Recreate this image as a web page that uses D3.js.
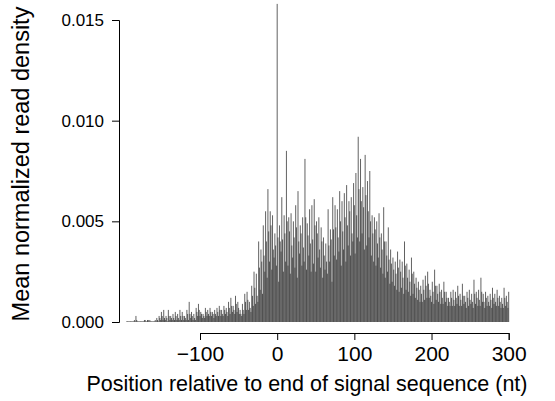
<!DOCTYPE html>
<html>
<head>
<meta charset="utf-8">
<script src="https://cdn.jsdelivr.net/npm/d3@7"></script>
<style>
  body { margin: 0; background: #fff; }
  text { font-family: "Liberation Sans", Arial, sans-serif; fill: #000; }
</style>
</head>
<body>
<svg id="chart" width="555" height="401"></svg>
<script>
// read density per nucleotide, split by reading frame (units of 1e-4)
// codon i starts at position firstPos + 3*i
var firstPos = -195;
var frame0 = [
    0, 0, 0, 0, 3, 0, 0, 0, 1, 1,
    1, 0, 0, 2, 3, 5, 6, 3, 6, 3,
    4, 5, 4, 6, 5, 3, 6, 10, 5, 4,
    7, 9, 5, 4, 7, 6, 7, 5, 6, 7,
    8, 6, 8, 7, 10, 12, 8, 13, 10, 6,
    9, 14, 15, 10, 18, 25, 24, 40, 36, 48,
    55, 66, 55, 53, 44, 158, 48, 62, 53, 85,
    52, 54, 50, 58, 65, 48, 52, 81, 49, 56,
    58, 61, 50, 52, 47, 42, 39, 56, 46, 62,
    58, 56, 65, 60, 64, 68, 60, 62, 69, 74,
    92, 81, 67, 83, 70, 75, 53, 52, 50, 54,
    44, 57, 40, 47, 36, 32, 30, 35, 31, 30,
    40, 29, 26, 32, 25, 22, 20, 18, 21, 23,
    25, 16, 20, 26, 18, 19, 16, 20, 15, 12,
    15, 16, 15, 18, 14, 19, 13, 15, 16, 14,
    21, 15, 16, 22, 14, 15, 13, 14, 17, 14,
    16, 13, 12, 17, 13, 15
];
var frame1 = [
    0, 0, 0, 1, 1, 0, 0, 0, 0, 1,
    0, 0, 1, 1, 2, 3, 2, 2, 3, 2,
    2, 3, 2, 3, 3, 2, 4, 4, 3, 2,
    5, 6, 4, 3, 5, 4, 5, 4, 4, 5,
    6, 4, 6, 5, 7, 8, 6, 9, 7, 4,
    6, 10, 11, 7, 13, 17, 13, 27, 30, 33,
    40, 45, 48, 36, 38, 42, 40, 41, 44, 50,
    45, 38, 42, 47, 40, 44, 37, 52, 43, 39,
    41, 48, 44, 36, 40, 33, 30, 38, 41, 46,
    47, 42, 50, 45, 52, 48, 55, 44, 58, 53,
    66, 60, 57, 63, 55, 50, 44, 46, 39, 42,
    36, 40, 33, 31, 29, 26, 24, 27, 25, 22,
    28, 22, 20, 24, 19, 17, 16, 14, 16, 18,
    19, 13, 15, 18, 14, 15, 12, 15, 12, 10,
    12, 11, 12, 13, 11, 13, 10, 12, 11, 10,
    14, 12, 11, 15, 10, 12, 10, 11, 12, 10,
    12, 10, 9, 12, 10
];
var frame2 = [
    0, 0, 0, 0, 0, 0, 0, 1, 0, 0,
    0, 0, 0, 0, 1, 1, 1, 0, 1, 1,
    1, 1, 1, 1, 1, 1, 1, 2, 1, 1,
    3, 3, 2, 2, 3, 3, 3, 2, 3, 3,
    3, 3, 4, 3, 4, 5, 4, 5, 4, 3,
    4, 6, 6, 5, 8, 9, 10, 16, 14, 25,
    22, 30, 26, 32, 28, 20, 35, 25, 30, 28,
    24, 32, 27, 22, 34, 28, 30, 26, 33, 25,
    29, 25, 32, 27, 22, 26, 24, 30, 20, 33,
    31, 35, 28, 36, 30, 38, 33, 40, 34, 42,
    40, 44, 36, 38, 42, 33, 30, 28, 32, 27,
    24, 22, 25, 19, 20, 18, 16, 15, 17, 14,
    16, 15, 13, 14, 12, 11, 10, 10, 11, 12,
    12, 10, 9, 11, 10, 9, 9, 10, 8, 8,
    8, 8, 9, 8, 8, 9, 7, 8, 9, 7,
    9, 8, 8, 10, 7, 8, 8, 7, 9, 8,
    8, 7, 7, 8, 7
];
var xTicks = [-100, 0, 100, 200, 300];
var yTicks = [0, 0.005, 0.010, 0.015];

var frames = [frame0, frame1, frame2];
var points = [];
frame0.forEach(function(v, i) {
    frames.forEach(function(f, k) {
        if (f[i] !== undefined) {
            points.push({ pos: firstPos + 3 * i + k, val: f[i] * 1e-4 });
        }
    });
});

var svg = d3.select('#chart');

var x = d3.scaleLinear().domain([-100, 300]).range([200, 508.7]);
var y = d3.scaleLinear().domain([0, 0.015]).range([322, 20]);

// one vertical spike per position, like R's type = "h"
svg.append('g')
    .selectAll('line')
    .data(points)
    .join('line')
        .attr('x1', d => x(d.pos))
        .attr('x2', d => x(d.pos))
        .attr('y1', y(0))
        .attr('y2', d => Math.min(y(d.val), y(0) - 0.6))
        .attr('stroke', '#2e2e2e')
        .attr('stroke-width', 0.75);

// axes, R style: detached from the plot region
var yAxis = svg.append('g')
        .attr('transform', 'translate(119,0)')
        .call(d3.axisLeft(y).tickValues(yTicks).tickFormat(d3.format('.3f')).tickSizeOuter(0).tickSize(7).tickPadding(8));
var xAxis = svg.append('g')
        .attr('transform', 'translate(0,333)')
        .call(d3.axisBottom(x).tickValues(xTicks).tickFormat(d => d < 0 ? '\u2212' + Math.abs(d) : d).tickSizeOuter(0).tickSize(7).tickPadding(6));

[yAxis, xAxis].forEach(function(a) {
    a.selectAll('path, line').attr('stroke', '#000').attr('stroke-width', 1);
    a.selectAll('text').style('font-family', '"Liberation Sans", Arial, sans-serif');
});
yAxis.selectAll('text').style('font-size', '17px');
xAxis.selectAll('text').style('font-size', '21px');

svg.append('text')
        .attr('transform', 'translate(29,164) rotate(-90)')
        .attr('text-anchor', 'middle')
        .style('font-size', '23.5px')
        .text('Mean normalized read density');

svg.append('text')
        .attr('x', 307)
        .attr('y', 391)
        .attr('text-anchor', 'middle')
        .style('font-size', '21.5px')
        .text('Position relative to end of signal sequence (nt)');
</script>
</body>
</html>
